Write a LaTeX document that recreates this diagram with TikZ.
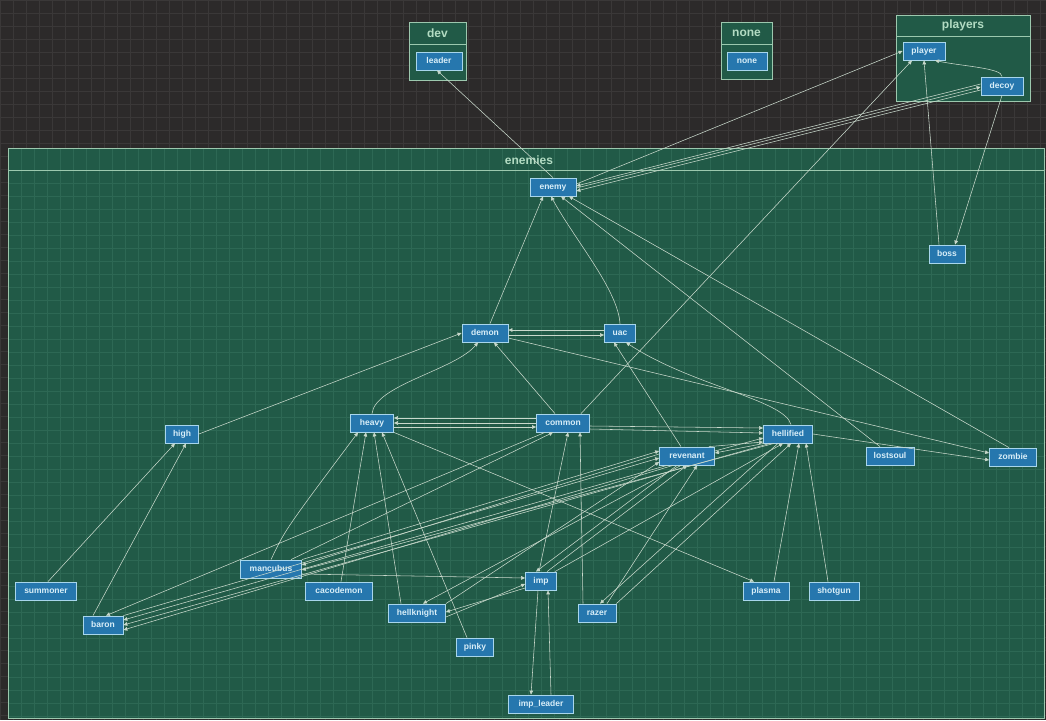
\documentclass[tikz,border=0pt]{standalone}
\usepackage{fontspec}
\setmainfont{Liberation Sans}
\usetikzlibrary{arrows.meta}
\definecolor{bgc}{HTML}{2C2A2A}
\definecolor{gridd}{HTML}{3A3838}
\definecolor{grn}{HTML}{215A47}
\definecolor{gridg}{HTML}{2D6854}
\definecolor{grpb}{HTML}{9CC8AE}
\definecolor{hdrc}{HTML}{B3DCC3}
\definecolor{ndfill}{HTML}{2677AE}
\definecolor{ndbord}{HTML}{A8D6EC}
\definecolor{ndtext}{HTML}{D8EEF8}
\definecolor{edgec}{HTML}{C9D9CC}
\begin{document}
\begin{tikzpicture}[x=1pt,y=-1pt,
  nd/.style={draw=ndbord, fill=ndfill, line width=0.8pt, text=ndtext, minimum height=18pt, inner sep=0pt, text height=6pt, text depth=1.5pt, font=\fontsize{8.5}{9}\selectfont\bfseries},
  grp/.style={draw=grpb, fill=grn, line width=0.7pt},
  hdr/.style={text=hdrc, font=\fontsize{12}{13}\selectfont\bfseries, inner sep=0pt},
  conn/.style={draw=edgec, line width=0.55pt, -{Triangle[length=4pt,width=3.6pt]}}]
\useasboundingbox (0,0) rectangle (1046,720);
\fill[bgc] (0,0) rectangle (1046,720);
\foreach \x in {0,13,...,1046} \draw[gridd, line width=0.5pt] (\x,0) -- (\x,720);
\foreach \y in {0,13,...,720} \draw[gridd, line width=0.5pt] (0,\y) -- (1046,\y);
% enemies region
\draw[grp] (8,148) rectangle (1044,718);
\begin{scope}
\clip (8,148) rectangle (1044,718);
\foreach \x in {8,21,...,1046} \draw[gridg, line width=0.5pt] (\x,148) -- (\x,720);
\foreach \y in {170,183,...,720} \draw[gridg, line width=0.5pt] (0,\y) -- (1046,\y);
\end{scope}
\draw[grp, fill=none] (8,148) rectangle (1044,718);
\draw[grpb, line width=0.7pt] (8,170) -- (1044,170);
\node[hdr] (henemies) at (529,160) {enemies};
% dev
\draw[grp] (409,22) rectangle (466,80);
\draw[grpb, line width=0.7pt] (409,44) -- (466,44);
\node[hdr] (hdev) at (437.5,33) {dev};
% none
\draw[grp] (721,22) rectangle (772,79);
\draw[grpb, line width=0.7pt] (721,44) -- (772,44);
\node[hdr] (hnone) at (746.5,33) {none};
% players
\draw[grp] (896,15) rectangle (1030,101);
\draw[grpb, line width=0.7pt] (896,36) -- (1030,36);
\node[hdr] (hplayers) at (963,25.5) {players};
% nodes
\node[nd, minimum width=46pt] (leader) at (439,61) {leader};
\node[nd, minimum width=40pt] (nonen) at (747,61) {none};
\node[nd, minimum width=42pt] (player) at (924,51) {player};
\node[nd, minimum width=42pt] (decoy) at (1002,86) {decoy};
\node[nd, minimum width=46pt] (enemy) at (553,187) {enemy};
\node[nd, minimum width=36pt] (boss) at (947,254) {boss};
\node[nd, minimum width=46pt] (demon) at (485,333) {demon};
\node[nd, minimum width=31pt] (uac) at (620,333) {uac};
\node[nd, minimum width=33pt] (high) at (182,434) {high};
\node[nd, minimum width=43pt] (heavy) at (372,423) {heavy};
\node[nd, minimum width=53pt] (common) at (563,423) {common};
\node[nd, minimum width=49pt] (hellified) at (788,434) {hellified};
\node[nd, minimum width=55pt] (revenant) at (687,456) {revenant};
\node[nd, minimum width=48pt] (lostsoul) at (890,456) {lostsoul};
\node[nd, minimum width=47pt] (zombie) at (1013,457) {zombie};
\node[nd, minimum width=61pt] (summoner) at (46,591) {summoner};
\node[nd, minimum width=61pt] (mancubus) at (271,569) {mancubus};
\node[nd, minimum width=67pt] (cacodemon) at (339,591) {cacodemon};
\node[nd, minimum width=40pt] (baron) at (103,625) {baron};
\node[nd, minimum width=57pt] (hellknight) at (417,613) {hellknight};
\node[nd, minimum width=31pt] (imp) at (541,581) {imp};
\node[nd, minimum width=37pt] (pinky) at (475,647) {pinky};
\node[nd, minimum width=38pt] (razer) at (597,613) {razer};
\node[nd, minimum width=65pt] (impleader) at (541,704) {imp\_leader};
\node[nd, minimum width=46pt] (plasma) at (766,591) {plasma};
\node[nd, minimum width=50pt] (shotgun) at (834,591) {shotgun};
% edges: top groups
\draw[conn] (enemy.north) -- ([xshift=-2pt]leader.south);
\draw[conn] ([yshift=3pt]enemy.east) -- (player.west);
\draw[conn] ([yshift=2pt]decoy.west) -- ([yshift=1pt]enemy.east);
\draw[conn] ([yshift=-4pt]decoy.west) -- ([yshift=-4pt]enemy.east);
\draw[conn] ([yshift=-1pt]enemy.east) -- ([yshift=-1pt]decoy.west);
\draw[conn] ([xshift=18pt]common.north) -- ([xshift=-12pt]player.south);
\draw[conn] ([xshift=-8pt]boss.north) -- ([xshift=0pt]player.south);
\draw[conn] (decoy.north) .. controls (1003,68) and (960,66) .. ([xshift=11pt]player.south);
\draw[conn] (decoy.south) -- ([xshift=8pt]boss.north);
% to enemy
\draw[conn] ([xshift=5pt]demon.north) -- ([xshift=-10pt]enemy.south);
\draw[conn] (uac.north) .. controls (618,290) and (575,240) .. ([xshift=-2pt]enemy.south);
\draw[conn] ([xshift=-10pt]lostsoul.north) -- ([xshift=8pt]enemy.south);
\draw[conn] ([xshift=-4pt]zombie.north) -- ([xshift=16pt]enemy.south);
% demon / uac
\draw[conn] ([yshift=3pt]uac.west) -- ([yshift=3pt]demon.east);
\draw[conn] ([yshift=-2pt]demon.east) -- ([yshift=-2pt]uac.west);
\draw[conn] (heavy.north) .. controls (375,385) and (455,370) .. ([xshift=-7pt]demon.south);
\draw[conn] ([xshift=-8pt]common.north) -- ([xshift=9pt]demon.south);
\draw[conn] ([xshift=-6pt]revenant.north) -- ([xshift=-6pt]uac.south);
\draw[conn] ([xshift=3pt]hellified.north) .. controls (785,400) and (690,385) .. ([xshift=6pt]uac.south);
\draw[conn] (high.east) -- (demon.west);
\draw[conn] ([yshift=-5pt]demon.east) -- ([yshift=4pt]zombie.west);
\draw[conn] (hellified.east) -- ([yshift=-3pt]zombie.west);
% heavy / common / hellified
\draw[conn] ([yshift=5pt]common.west) -- ([yshift=5pt]heavy.east);
\draw[conn] ([yshift=0pt]common.west) -- ([yshift=0pt]heavy.east);
\draw[conn] ([yshift=-4pt]heavy.east) -- ([yshift=-4pt]common.west);
\draw[conn] ([yshift=-3pt]common.east) -- ([yshift=6pt]hellified.west);
\draw[conn] ([yshift=-6pt]common.east) -- ([yshift=1pt]hellified.west);
\draw[conn] ([yshift=5pt]revenant.east) -- ([yshift=-4pt]hellified.west);
\draw[conn] ([xshift=-6pt]revenant.north east) -- ([yshift=-8pt]hellified.west);
\draw[conn] ([xshift=-24pt]hellified.south) -- ([yshift=3pt]revenant.east);
% into heavy
\draw[conn] (mancubus.north) .. controls (285,530) .. ([xshift=-14pt]heavy.south);
\draw[conn] ([xshift=2pt]cacodemon.north) -- ([xshift=-6pt]heavy.south);
\draw[conn] ([xshift=-16pt]hellknight.north) -- ([xshift=2pt]heavy.south);
\draw[conn] ([xshift=-8pt]pinky.north) -- ([xshift=10pt]heavy.south);
\draw[conn] (heavy.south east) -- ([xshift=-12pt]plasma.north);
% high
\draw[conn] ([xshift=2pt]summoner.north) -- ([xshift=-7pt]high.south);
\draw[conn] ([xshift=-10pt]baron.north) -- ([xshift=4pt]high.south);
% lower-left bundle
\draw[conn] ([xshift=-18pt]common.south) -- ([xshift=3pt]baron.north);
\draw[conn] ([xshift=20pt]mancubus.north) -- ([xshift=-10pt]common.south);
\draw[conn] ([yshift=2pt]revenant.west) -- ([yshift=4pt]mancubus.east);
\draw[conn] (mancubus.north east) -- ([yshift=5pt]revenant.west);
\draw[conn] ([xshift=-14pt]hellified.south) -- ([yshift=-1pt]mancubus.east);
\draw[conn] (baron.north east) -- ([yshift=-2pt]revenant.west);
\draw[conn] ([xshift=-20pt]revenant.south) -- ([yshift=5pt]baron.east);
\draw[conn] ([xshift=-18pt]hellified.south) -- (baron.east);
\draw[conn] ([xshift=-14pt]revenant.south) -- ([yshift=-5pt]baron.east);
% hellknight / imp
\draw[conn] (hellknight.north east) -- ([yshift=-6pt]revenant.west);
\draw[conn] ([xshift=-6pt]revenant.south) -- ([xshift=6pt]hellknight.north);
\draw[conn] ([yshift=-5pt]mancubus.east) -- ([yshift=3pt]imp.west);
\draw[conn] ([yshift=-4pt]hellknight.east) -- ([yshift=-3pt]imp.west);
\draw[conn] ([yshift=-7pt]imp.west) -- ([yshift=1pt]hellknight.east);
\draw[conn] ([xshift=-2pt]imp.north) -- ([xshift=5pt]common.south);
\draw[conn] ([xshift=-14pt]razer.north) -- ([xshift=17pt]common.south);
\draw[conn] ([xshift=-10pt]revenant.south) -- ([xshift=-5pt]imp.north);
\draw[conn] ([xshift=6pt]imp.north) -- ([xshift=0pt]revenant.south);
\draw[conn] ([xshift=-2pt]imp.north east) -- ([xshift=-5pt]hellified.south);
\draw[conn] ([xshift=10pt]razer.north) -- ([xshift=10pt]revenant.south);
\draw[conn] ([xshift=-10pt]hellified.south) -- ([xshift=3pt]razer.north);
\draw[conn] (razer.north east) -- ([xshift=3pt]hellified.south);
\draw[conn] ([xshift=8pt]plasma.north) -- ([xshift=11pt]hellified.south);
\draw[conn] ([xshift=-6pt]shotgun.north) -- ([xshift=18pt]hellified.south);
\draw[conn] ([xshift=-3pt]imp.south) -- ([xshift=-10pt]impleader.north);
\draw[conn] ([xshift=10pt]impleader.north) -- ([xshift=7pt]imp.south);
\end{tikzpicture}
\end{document}
